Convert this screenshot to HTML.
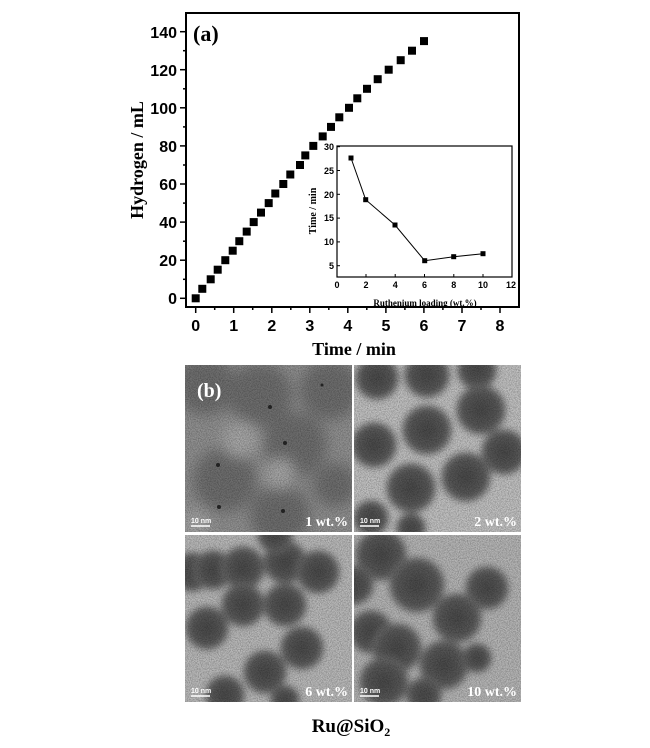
<!DOCTYPE html>
<html><head><meta charset="utf-8"><style>
html,body{margin:0;padding:0;background:#fff;width:650px;height:748px;overflow:hidden}
svg{display:block}
.t{font-family:"Liberation Sans",Arial,sans-serif;font-weight:bold}
.s{font-family:"Liberation Serif","Times New Roman",serif;font-weight:bold}
</style></head><body>
<svg width="650" height="748" viewBox="0 0 650 748" xmlns="http://www.w3.org/2000/svg">
<defs>
<filter id="b3" x="-30%" y="-30%" width="160%" height="160%"><feGaussianBlur stdDeviation="3.5"/></filter>
<filter id="b6" x="-30%" y="-30%" width="160%" height="160%"><feGaussianBlur stdDeviation="7"/></filter>
<filter id="nz"><feTurbulence type="fractalNoise" baseFrequency="0.9" numOctaves="2" seed="3"/><feColorMatrix type="matrix" values="0 0 0 0 0  0 0 0 0 0  0 0 0 0 0  0 0 0 0.6 -0.2"/></filter>
<radialGradient id="g1"><stop offset="0" stop-color="#474747"/><stop offset="0.8" stop-color="#5a5a5a"/><stop offset="1" stop-color="#7a7a7a"/></radialGradient>
<clipPath id="c1"><rect x="0" y="0" width="167" height="167"/></clipPath>
</defs>

<rect x="186" y="13" width="333" height="294" fill="none" stroke="#000" stroke-width="2"/>
<g stroke="#000" stroke-width="1.5">
<line x1="180" y1="298.3" x2="186" y2="298.3"/><line x1="180" y1="260.2" x2="186" y2="260.2"/>
<line x1="180" y1="222.1" x2="186" y2="222.1"/><line x1="180" y1="184" x2="186" y2="184"/>
<line x1="180" y1="145.9" x2="186" y2="145.9"/><line x1="180" y1="107.8" x2="186" y2="107.8"/>
<line x1="180" y1="69.7" x2="186" y2="69.7"/><line x1="180" y1="31.7" x2="186" y2="31.7"/>
<line x1="183" y1="279.3" x2="186" y2="279.3"/><line x1="183" y1="241.2" x2="186" y2="241.2"/>
<line x1="183" y1="203.1" x2="186" y2="203.1"/><line x1="183" y1="165" x2="186" y2="165"/>
<line x1="183" y1="126.9" x2="186" y2="126.9"/><line x1="183" y1="88.8" x2="186" y2="88.8"/>
<line x1="183" y1="50.7" x2="186" y2="50.7"/>
<line x1="195.7" y1="307" x2="195.7" y2="313"/><line x1="233.7" y1="307" x2="233.7" y2="313"/>
<line x1="271.8" y1="307" x2="271.8" y2="313"/><line x1="309.8" y1="307" x2="309.8" y2="313"/>
<line x1="347.8" y1="307" x2="347.8" y2="313"/><line x1="385.9" y1="307" x2="385.9" y2="313"/>
<line x1="423.9" y1="307" x2="423.9" y2="313"/><line x1="462" y1="307" x2="462" y2="313"/>
<line x1="500" y1="307" x2="500" y2="313"/>
<line x1="214.7" y1="307" x2="214.7" y2="310"/><line x1="252.7" y1="307" x2="252.7" y2="310"/>
<line x1="290.8" y1="307" x2="290.8" y2="310"/><line x1="328.8" y1="307" x2="328.8" y2="310"/>
<line x1="366.8" y1="307" x2="366.8" y2="310"/><line x1="404.9" y1="307" x2="404.9" y2="310"/>
<line x1="442.9" y1="307" x2="442.9" y2="310"/><line x1="481" y1="307" x2="481" y2="310"/>
</g>
<g class="t" font-size="16" text-anchor="end" fill="#000">
<text x="177" y="304">0</text><text x="177" y="266">20</text><text x="177" y="228">40</text>
<text x="177" y="190">60</text><text x="177" y="152">80</text><text x="177" y="114">100</text>
<text x="177" y="76">120</text><text x="177" y="38">140</text>
</g>
<g class="t" font-size="16" text-anchor="middle" fill="#000">
<text x="195.7" y="331">0</text><text x="233.7" y="331">1</text><text x="271.8" y="331">2</text>
<text x="309.8" y="331">3</text><text x="347.8" y="331">4</text><text x="385.9" y="331">5</text>
<text x="423.9" y="331">6</text><text x="462" y="331">7</text><text x="500" y="331">8</text>
</g>
<text class="s" font-size="18" x="354" y="355" text-anchor="middle">Time / min</text>
<text class="s" font-size="18" transform="translate(143,160) rotate(-90)" text-anchor="middle">Hydrogen / mL</text>
<text class="s" font-size="22" x="193" y="41">(a)</text>

<g fill="#000">
<rect x="191.7" y="294.3" width="8" height="8"/><rect x="198.3" y="284.8" width="8" height="8"/>
<rect x="206.7" y="275.3" width="8" height="8"/><rect x="213.7" y="265.7" width="8" height="8"/>
<rect x="221.3" y="256.2" width="8" height="8"/><rect x="228.7" y="246.7" width="8" height="8"/>
<rect x="235.3" y="237.2" width="8" height="8"/><rect x="242.7" y="227.6" width="8" height="8"/>
<rect x="249.7" y="218.1" width="8" height="8"/><rect x="257" y="208.6" width="8" height="8"/>
<rect x="264.7" y="199.1" width="8" height="8"/><rect x="271.3" y="189.5" width="8" height="8"/>
<rect x="279.3" y="180" width="8" height="8"/><rect x="286.3" y="170.5" width="8" height="8"/>
<rect x="296" y="161" width="8" height="8"/><rect x="301.3" y="151.4" width="8" height="8"/>
<rect x="309.3" y="141.9" width="8" height="8"/><rect x="318.7" y="132.4" width="8" height="8"/>
<rect x="327" y="122.9" width="8" height="8"/><rect x="335.3" y="113.3" width="8" height="8"/>
<rect x="345" y="103.8" width="8" height="8"/><rect x="353.3" y="94.3" width="8" height="8"/>
<rect x="363" y="84.8" width="8" height="8"/><rect x="373.7" y="75.2" width="8" height="8"/>
<rect x="384.7" y="65.7" width="8" height="8"/><rect x="396.7" y="56.2" width="8" height="8"/>
<rect x="408" y="46.7" width="8" height="8"/><rect x="420" y="37.1" width="8" height="8"/>
</g>

<!-- Inset -->
<rect x="337" y="146" width="175" height="131" fill="#fff" stroke="#000" stroke-width="1.2"/>
<g stroke="#000" stroke-width="1">
<line x1="337" y1="146.7" x2="340" y2="146.7"/><line x1="337" y1="170.5" x2="340" y2="170.5"/>
<line x1="337" y1="194.3" x2="340" y2="194.3"/><line x1="337" y1="218.1" x2="340" y2="218.1"/>
<line x1="337" y1="241.9" x2="340" y2="241.9"/><line x1="337" y1="265.7" x2="340" y2="265.7"/>
<line x1="366" y1="277" x2="366" y2="274"/><line x1="395.2" y1="277" x2="395.2" y2="274"/>
<line x1="424.5" y1="277" x2="424.5" y2="274"/><line x1="453.8" y1="277" x2="453.8" y2="274"/>
<line x1="483" y1="277" x2="483" y2="274"/>
</g>
<g class="t" font-size="9" text-anchor="end" fill="#000">
<text x="334" y="150">30</text><text x="334" y="174">25</text><text x="334" y="198">20</text>
<text x="334" y="221">15</text><text x="334" y="245">10</text><text x="334" y="269">5</text>
</g>
<g class="t" font-size="9" text-anchor="middle" fill="#000">
<text x="337" y="288">0</text><text x="366" y="288">2</text><text x="395.2" y="288">4</text>
<text x="424.5" y="288">6</text><text x="453.8" y="288">8</text><text x="483" y="288">10</text><text x="511" y="288">12</text>
</g>
<text class="s" font-size="9" x="425" y="306" text-anchor="middle">Ruthenium loading (wt.%)</text>
<text class="s" font-size="10" transform="translate(316,211) rotate(-90)" text-anchor="middle">Time / min</text>
<polyline points="351,158 365.7,199.7 395,225 424.7,260.7 453.7,256.7 483,253.7" fill="none" stroke="#000" stroke-width="1"/>
<g fill="#000">
<rect x="348.5" y="155.5" width="5" height="5"/><rect x="363.2" y="197.2" width="5" height="5"/>
<rect x="392.5" y="222.5" width="5" height="5"/><rect x="422.2" y="258.2" width="5" height="5"/>
<rect x="451.2" y="254.2" width="5" height="5"/><rect x="480.5" y="251.2" width="5" height="5"/>
</g>

<!-- panel 1 -->
<g transform="translate(185,365)" clip-path="url(#c1)">
<rect width="167" height="167" fill="#929292"/>
<g fill="#6e6e6e" filter="url(#b6)">
<circle cx="20" cy="20" r="30"/><circle cx="75" cy="30" r="32"/><circle cx="145" cy="25" r="30"/>
<circle cx="110" cy="80" r="32"/><circle cx="40" cy="115" r="32"/><circle cx="95" cy="150" r="30"/>
<circle cx="150" cy="120" r="22"/>
</g>
<g fill="#a8a8a8" filter="url(#b6)">
<circle cx="55" cy="75" r="18"/><circle cx="95" cy="108" r="16"/><circle cx="10" cy="160" r="14"/>
</g>
<rect width="167" height="167" filter="url(#nz)"/>
<g fill="#222"><circle cx="85" cy="42" r="2"/><circle cx="100" cy="78" r="2"/><circle cx="33" cy="100" r="2"/><circle cx="137" cy="20" r="1.5"/><circle cx="98" cy="146" r="2"/><circle cx="34" cy="142" r="2"/></g>
<text class="s" font-size="20" x="12" y="32" fill="#fff">(b)</text>
<line x1="6" y1="161" x2="25" y2="161" stroke="#fff" stroke-width="1.5"/>
<text class="t" font-size="7" x="6" y="158" fill="#fff">10 nm</text>
<text class="s" font-size="14" x="163" y="161" text-anchor="end" fill="#fff">1 wt.%</text>
</g>
<!-- panel 2 -->
<g transform="translate(354,365)" clip-path="url(#c1)">
<rect width="167" height="167" fill="#c2c2c2"/>
<g fill="url(#g1)" filter="url(#b3)">
<circle cx="23" cy="13" r="22"/><circle cx="73" cy="10" r="23"/><circle cx="123" cy="5" r="20"/>
<circle cx="127" cy="45" r="25"/><circle cx="73" cy="65" r="25"/><circle cx="20" cy="80" r="23"/>
<circle cx="150" cy="87" r="23"/><circle cx="112" cy="112" r="25"/><circle cx="57" cy="123" r="25"/>
<circle cx="17" cy="153" r="18"/><circle cx="57" cy="163" r="15"/>
</g>
<rect width="167" height="167" filter="url(#nz)"/>
<line x1="6" y1="161" x2="25" y2="161" stroke="#fff" stroke-width="1.5"/>
<text class="t" font-size="7" x="6" y="158" fill="#fff">10 nm</text>
<text class="s" font-size="14" x="163" y="161" text-anchor="end" fill="#fff">2 wt.%</text>
</g>
<!-- panel 6 -->
<g transform="translate(185,535)" clip-path="url(#c1)">
<rect width="167" height="167" fill="#bababa"/>
<g fill="url(#g1)" filter="url(#b3)">
<circle cx="7" cy="37" r="20"/><circle cx="28" cy="35" r="20"/><circle cx="58" cy="33" r="22"/>
<circle cx="100" cy="27" r="22"/><circle cx="133" cy="37" r="22"/><circle cx="90" cy="0" r="18"/>
<circle cx="58" cy="70" r="22"/><circle cx="100" cy="70" r="22"/><circle cx="22" cy="93" r="22"/>
<circle cx="117" cy="113" r="22"/><circle cx="80" cy="137" r="22"/><circle cx="40" cy="160" r="20"/>
<circle cx="100" cy="165" r="15"/>
</g>
<rect width="167" height="167" filter="url(#nz)"/>
<line x1="6" y1="161" x2="25" y2="161" stroke="#fff" stroke-width="1.5"/>
<text class="t" font-size="7" x="6" y="158" fill="#fff">10 nm</text>
<text class="s" font-size="14" x="163" y="161" text-anchor="end" fill="#fff">6 wt.%</text>
</g>
<!-- panel 10 -->
<g transform="translate(354,535)" clip-path="url(#c1)">
<rect width="167" height="167" fill="#b6b6b6"/>
<g fill="url(#g1)" filter="url(#b3)">
<circle cx="27" cy="20" r="26"/><circle cx="63" cy="50" r="28"/><circle cx="133" cy="53" r="22"/>
<circle cx="103" cy="83" r="25"/><circle cx="17" cy="97" r="22"/><circle cx="43" cy="113" r="25"/>
<circle cx="90" cy="130" r="25"/><circle cx="30" cy="147" r="25"/><circle cx="123" cy="123" r="15"/>
<circle cx="70" cy="160" r="18"/><circle cx="0" cy="50" r="20"/>
</g>
<rect width="167" height="167" filter="url(#nz)"/>
<line x1="6" y1="161" x2="25" y2="161" stroke="#fff" stroke-width="1.5"/>
<text class="t" font-size="7" x="6" y="158" fill="#fff">10 nm</text>
<text class="s" font-size="14" x="163" y="161" text-anchor="end" fill="#fff">10 wt.%</text>
</g>

<text class="s" font-size="19" x="351" y="732" text-anchor="middle">Ru@SiO<tspan font-size="12" dy="4">2</tspan></text>
</svg>
</body></html>
